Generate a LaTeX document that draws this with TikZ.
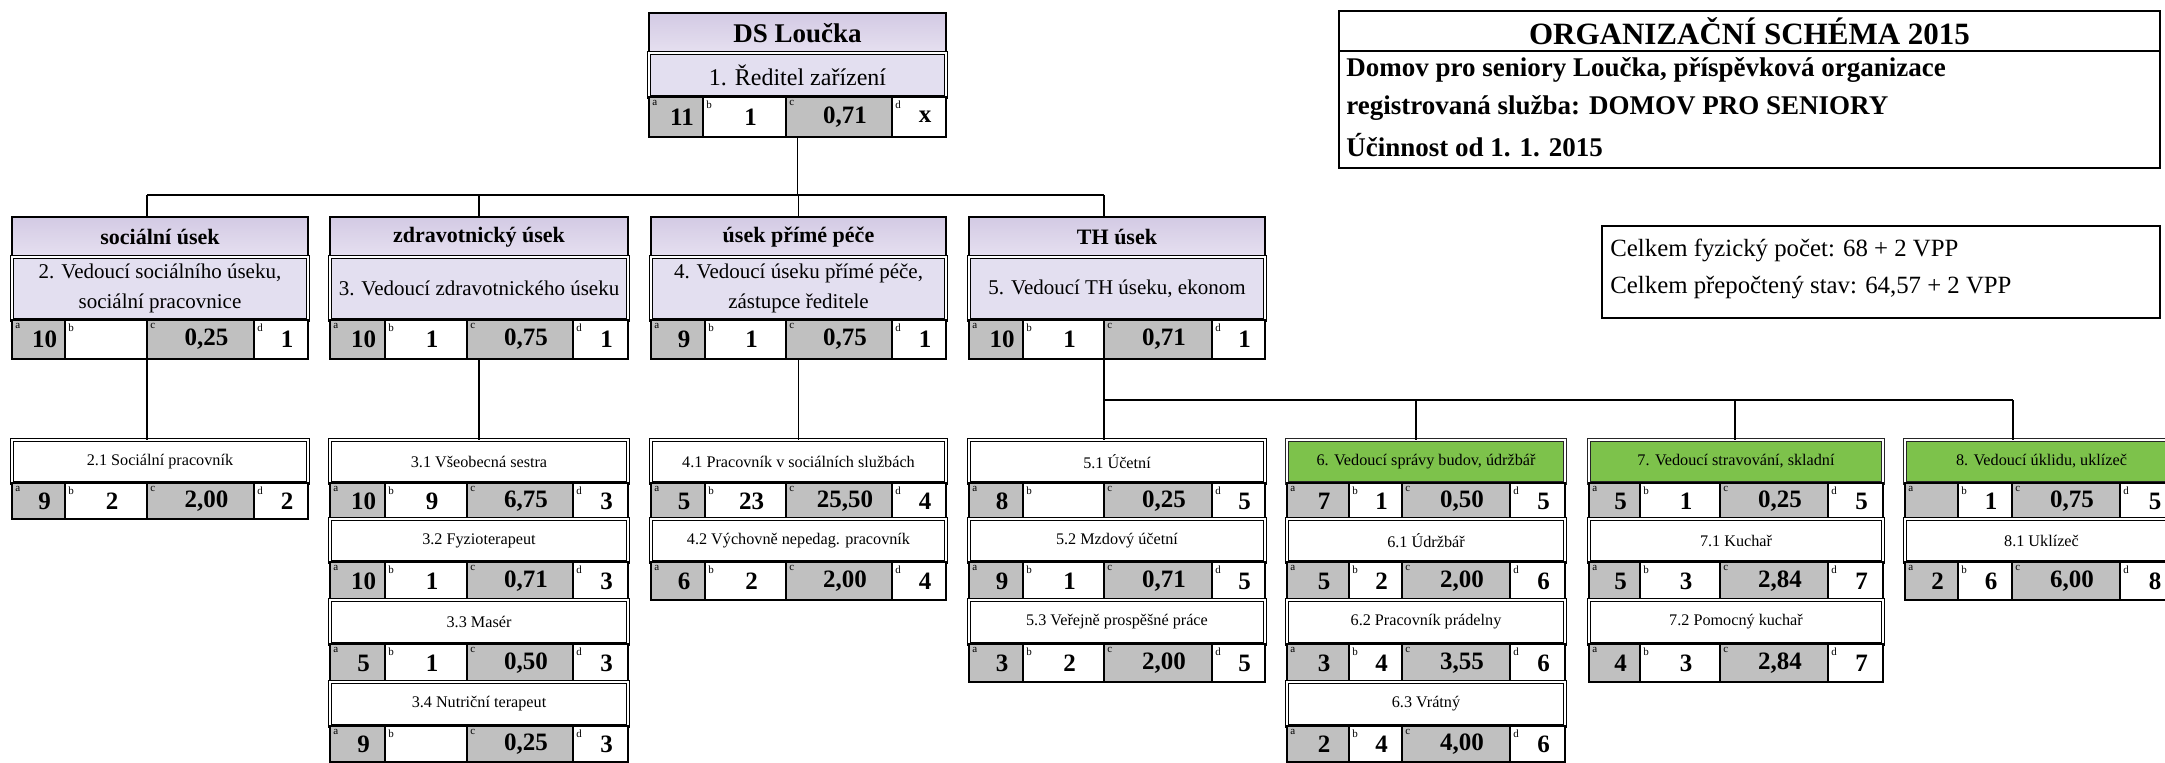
\documentclass[tikz,border=0pt]{standalone}
\usepackage{fontspec}
\setmainfont{Liberation Serif}
\definecolor{hdr}{HTML}{D3CAE4}
\definecolor{hdrl}{HTML}{E6E0F0}
\definecolor{subc}{HTML}{E3DFF0}
\definecolor{gcell}{HTML}{C0C0C0}
\definecolor{grn}{HTML}{7DC24B}
\tikzset{
 base/.style={inner sep=0pt, outer sep=0pt, anchor=north west, align=center},
 hdrbox/.style={base, draw=black, line width=1.2pt, top color=hdr, bottom color=hdrl, font=\bfseries\fontsize{11}{13}\selectfont},
 subbox/.style={base, draw=black, double=white, double distance=1.1pt, line width=0.45pt, fill=subc, font=\fontsize{10.5}{15}\selectfont},
 namebox/.style={base, draw=black, double=white, double distance=1.1pt, line width=0.45pt, fill=white, font=\fontsize{8.1}{10}\selectfont},
 grnbox/.style={namebox, fill=grn, draw=black!85},
 cellg/.style={base, draw=black, line width=0.55pt, fill=gcell, font=\bfseries\fontsize{12.5}{14}\selectfont},
 cellw/.style={cellg, fill=white},
 lett/.style={inner sep=1.5pt, anchor=north west, font=\fontsize{5.5}{6}\selectfont},
 conn/.style={draw=black, line width=0.7pt},
 framebox/.style={base, draw=black, line width=1pt, fill=white},
 infotext/.style={inner sep=0pt, anchor=west},
}
\newcommand\mybx[8][]{\node[#2,minimum width={(#6-#4)*0.5pt},minimum height={(#7-#5)*0.5pt},#1] (#3) at (#4,#5) {#8};}
\newcommand\setcols[5]{\def\cA{#1}\def\cB{#2}\def\cC{#3}\def\cD{#4}\def\cE{#5}}
\newcommand\mycells[7]{%
 \mybx{cellg}{#1-a}{\cA}{#2}{\cB}{#3}{\hspace*{6pt}#4}
 \mybx{cellw}{#1-b}{\cB}{#2}{\cC}{#3}{\hspace*{6pt}#5}
 \mybx{cellg}{#1-c}{\cC}{#2}{\cD}{#3}{\hspace*{6pt}#6}
 \mybx{cellw}{#1-d}{\cD}{#2}{\cE}{#3}{\hspace*{6pt}#7}
 \node[lett] at (#1-a.north west) {a};
 \node[lett] at (#1-b.north west) {b};
 \node[lett] at (#1-c.north west) {c};
 \node[lett] at (#1-d.north west) {d};}
\newcommand\mynm[5]{\mybx{#1}{#2}{\cA}{#3}{\cE}{#4}{#5}}
\begin{document}
\begin{tikzpicture}[x=0.5pt,y=-0.5pt]
\useasboundingbox (0,0) rectangle (2165,762);
\fill[white] (0,0) rectangle (2165,762);

% ---------- top: DS Loucka
\setcols{649}{703}{786}{892}{946}
\mynm{hdrbox, font=\bfseries\fontsize{13.5}{15}\selectfont}{ds}{13}{53}{DS Loučka}
\mynm{subbox, font=\fontsize{12}{14}\selectfont}{ds1}{53}{97}{1. Ředitel zařízení}
\mycells{dsc}{97}{137}{11}{1}{0,71}{x}

% ---------- title box
\mybx{framebox}{tth}{1339}{11}{2160}{51}{\bfseries\fontsize{15.5}{17}\selectfont ORGANIZAČNÍ SCHÉMA 2015}
\mybx{framebox}{ttb}{1339}{51}{2160}{168}{}
\node[infotext, font=\bfseries\fontsize{13.5}{15}\selectfont] (t1) at (1346,70) {Domov pro seniory Loučka, příspěvková organizace};
\node[infotext, font=\bfseries\fontsize{13.5}{15}\selectfont] (t2) at (1346,108) {registrovaná služba: DOMOV PRO SENIORY};
\node[infotext, font=\bfseries\fontsize{13.5}{15}\selectfont] (t3) at (1346,145) {Účinnost od 1. 1. 2015};

% ---------- totals box
\mybx{framebox, line width=0.7pt}{tot}{1602}{226}{2160}{318}{}
\node[infotext, font=\fontsize{12.4}{14}\selectfont] (tot1) at (1610,250) {Celkem fyzický počet: 68 + 2 VPP};
\node[infotext, font=\fontsize{12.4}{14}\selectfont] (tot2) at (1610,288) {Celkem přepočtený stav: 64,57 + 2 VPP};

% ---------- level 2
\setcols{12}{65}{147}{254}{308}
\mynm{hdrbox}{Sh}{217}{257}{sociální úsek}
\mynm{subbox}{Ss}{257}{320}{2. Vedoucí sociálního úseku,\\sociální pracovnice}
\mycells{Sc}{320}{359}{10}{}{0,25}{1}
\mynm{namebox}{S1}{440}{483}{2.1 Sociální pracovník}
\mycells{S1c}{483}{519}{9}{2}{2,00}{2}

\setcols{330}{385}{467}{573}{628}
\mynm{hdrbox}{Zh}{217}{257}{zdravotnický úsek}
\mynm{subbox}{Zs}{257}{320}{3. Vedoucí zdravotnického úseku}
\mycells{Zc}{320}{359}{10}{1}{0,75}{1}
\mynm{namebox}{Z1}{440}{483}{3.1 Všeobecná sestra}
\mycells{Z1c}{483}{519}{10}{9}{6,75}{3}
\mynm{namebox}{Z2}{519}{562}{3.2 Fyzioterapeut}
\mycells{Z2c}{562}{600}{10}{1}{0,71}{3}
\mynm{namebox}{Z3}{600}{644}{3.3 Masér}
\mycells{Z3c}{644}{682}{5}{1}{0,50}{3}
\mynm{namebox}{Z4}{682}{726}{3.4 Nutriční terapeut}
\mycells{Z4c}{726}{762}{9}{}{0,25}{3}

\setcols{651}{705}{786}{892}{946}
\mynm{hdrbox}{Ph}{217}{257}{úsek přímé péče}
\mynm{subbox}{Ps}{257}{320}{4. Vedoucí úseku přímé péče,\\zástupce ředitele}
\mycells{Pc}{320}{359}{9}{1}{0,75}{1}
\mynm{namebox}{P1}{440}{483}{4.1 Pracovník v sociálních službách}
\mycells{P1c}{483}{519}{5}{23}{25,50}{4}
\mynm{namebox}{P2}{519}{562}{4.2 Výchovně nepedag. pracovník}
\mycells{P2c}{562}{600}{6}{2}{2,00}{4}

\setcols{969}{1023}{1104}{1212}{1265}
\mynm{hdrbox}{Th}{217}{257}{TH úsek}
\mynm{subbox}{Ts}{257}{320}{5. Vedoucí TH úseku, ekonom}
\mycells{Tc}{320}{359}{10}{1}{0,71}{1}
\mynm{namebox}{T1}{440}{483}{5.1 Účetní}
\mycells{T1c}{483}{519}{8}{}{0,25}{5}
\mynm{namebox}{T2}{519}{562}{5.2 Mzdový účetní}
\mycells{T2c}{562}{600}{9}{1}{0,71}{5}
\mynm{namebox}{T3}{600}{644}{5.3 Veřejně prospěšné práce}
\mycells{T3c}{644}{682}{3}{2}{2,00}{5}

% ---------- TH subgroups
\setcols{1287}{1349}{1402}{1510}{1565}
\mynm{grnbox}{G6}{440}{483}{6. Vedoucí správy budov, údržbář}
\mycells{G6c}{483}{519}{7}{1}{0,50}{5}
\mynm{namebox}{G61}{519}{562}{6.1 Údržbář}
\mycells{G61c}{562}{600}{5}{2}{2,00}{6}
\mynm{namebox}{G62}{600}{644}{6.2 Pracovník prádelny}
\mycells{G62c}{644}{682}{3}{4}{3,55}{6}
\mynm{namebox}{G63}{682}{726}{6.3 Vrátný}
\mycells{G63c}{726}{762}{2}{4}{4,00}{6}

\setcols{1589}{1640}{1720}{1828}{1883}
\mynm{grnbox}{G7}{440}{483}{7. Vedoucí stravování, skladní}
\mycells{G7c}{483}{519}{5}{1}{0,25}{5}
\mynm{namebox}{G71}{519}{562}{7.1 Kuchař}
\mycells{G71c}{562}{600}{5}{3}{2,84}{7}
\mynm{namebox}{G72}{600}{644}{7.2 Pomocný kuchař}
\mycells{G72c}{644}{682}{4}{3}{2,84}{7}

\setcols{1905}{1958}{2012}{2120}{2178}
\mynm{grnbox}{G8}{440}{483}{8. Vedoucí úklidu, uklízeč}
\mycells{G8c}{483}{519}{}{1}{0,75}{5}
\mynm{namebox}{G81}{519}{562}{8.1 Uklízeč}
\mycells{G81c}{562}{600}{2}{6}{6,00}{8}

% ---------- connectors
\coordinate (bus1) at (0,195);
\coordinate (bus2) at (0,400);
\coordinate (j6) at (1416,400);
\coordinate (j7) at (1735,400);
\coordinate (j8) at (2013,400);
\draw[conn] (ds.center |- dsc-a.south) -- (ds.center |- bus1);
\draw[conn] (Sc-b.east |- bus1) -- (Tc-b.east |- bus1);
\draw[conn] (Sc-b.east |- bus1) -- (Sc-b.east |- Sh.north);
\draw[conn] (Zh.north |- bus1) -- (Zh.north);
\draw[conn] (Ph.north |- bus1) -- (Ph.north);
\draw[conn] (Tc-b.east |- bus1) -- (Tc-b.east |- Th.north);
\draw[conn] (Sc-b.south east) -- (Sc-b.east |- S1.north);
\draw[conn] (Zc-a.south -| Zs.south) -- (Z1.north);
\draw[conn] (Pc-a.south -| Ps.south) -- (P1.north);
\draw[conn] (Tc-b.south east) -- (Tc-b.east |- T1.north);
\draw[conn] (Tc-b.east |- bus2) -- (j8);
\draw[conn] (j6) -- (j6 |- G6.north);
\draw[conn] (j7) -- (j7 |- G7.north);
\draw[conn] (j8) -- (j8 |- G8.north);
\end{tikzpicture}
\end{document}
